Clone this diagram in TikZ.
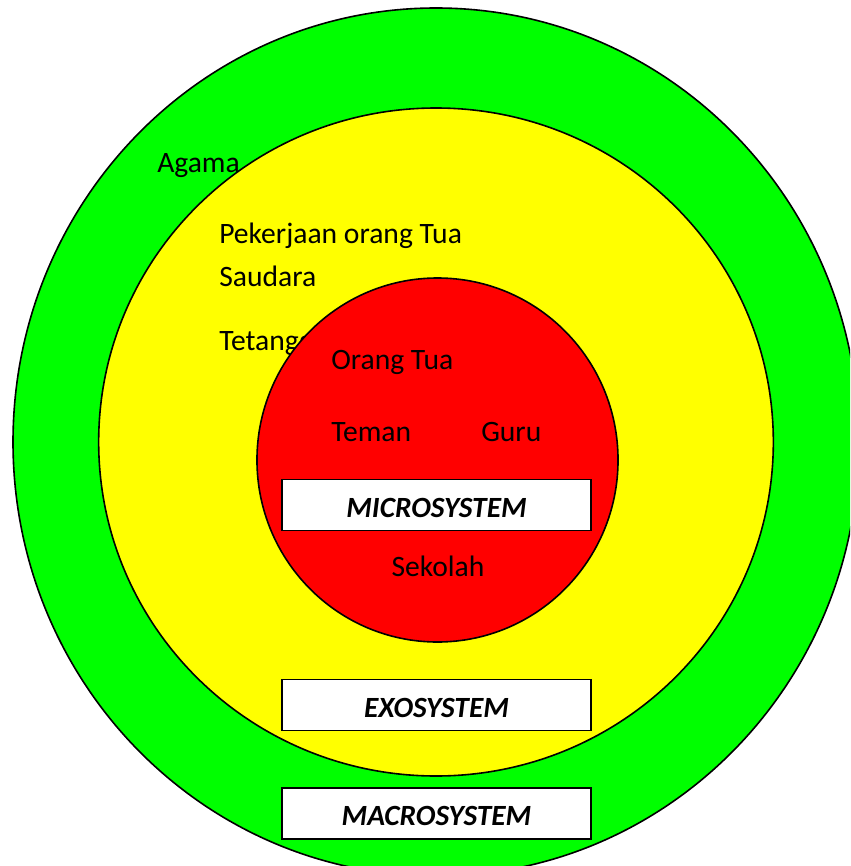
\documentclass[tikz,border=0pt]{standalone}
\usepackage{fontspec}
\setmainfont{Carlito}
\definecolor{gr}{RGB}{0,255,0}
\definecolor{ye}{RGB}{255,255,0}
\definecolor{rd}{RGB}{255,0,0}
\begin{document}
\begin{tikzpicture}[x=0.75pt,y=-0.75pt,
  ring/.style={draw=black,line width=1.2pt},
  lbl/.style={font=\fontsize{22.2}{26}\selectfont,inner sep=0pt,anchor=west},
  sysbox/.style={draw=black,fill=white,line width=1.2pt,minimum width=231.75pt,minimum height=38.25pt,inner sep=0pt,text height=18.7pt,text depth=0pt,font=\fontsize{22}{26}\selectfont\bfseries\itshape}]
\useasboundingbox (0,0) rectangle (850,866);
\clip (0,0) rectangle (850,866);
\path[ring,fill=gr] (436,442) ellipse [x radius=317.25pt, y radius=325.5pt];
\path[ring,fill=ye] (436,442) ellipse [x radius=253pt, y radius=250.5pt];
\node[lbl] (agama) at (157,166) {Agama};
\node[lbl] (kerja) at (219,236) {Pekerjaan orang Tua};
\node[lbl] (saudara) at (219,276) {Saudara};
\node[lbl] (tetang) at (219,344) {Tetangga};
\path[ring,fill=rd] (437.5,460) ellipse [x radius=135.4pt, y radius=136.5pt];
\node[lbl] (ortu) at (331,362) {Orang Tua};
\node[lbl] (teman) at (331,432) {Teman};
\node[lbl] (guru) at (481,432) {Guru};
\node[sysbox] (micro) at (436.5,505) {MICROSYSTEM};
\node[lbl,anchor=center] (sekolah) at (438,566) {Sekolah};
\node[sysbox] (exo) at (436.5,705) {EXOSYSTEM};
\node[sysbox] (macro) at (436.5,813.5) {MACROSYSTEM};
\end{tikzpicture}
\end{document}
